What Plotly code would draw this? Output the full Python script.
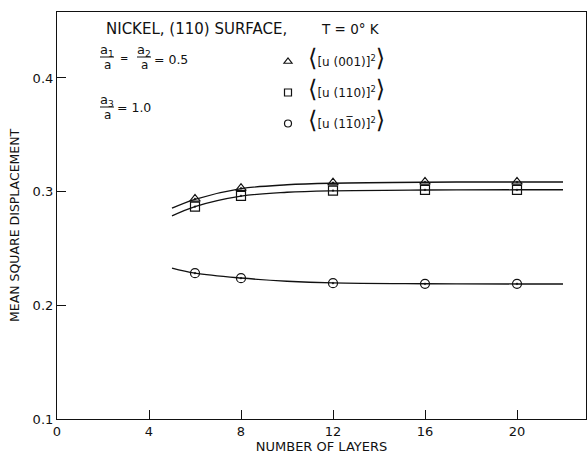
import plotly.graph_objects as go

# ---- data ----
layers = [6, 8, 12, 16, 20]
u001 = [0.2936, 0.3030, 0.3079, 0.3085, 0.3085]
u110 = [0.2868, 0.2962, 0.3009, 0.3015, 0.3015]
u1b10 = [0.2283, 0.2239, 0.2195, 0.2189, 0.2189]

curve_x = [5.0, 6, 8, 10, 12, 16, 20, 22]
curve_001 = [0.2854, 0.2932, 0.3026, 0.3060, 0.3074, 0.3083, 0.3085, 0.3085]
curve_110 = [0.2786, 0.2868, 0.2960, 0.2994, 0.3007, 0.3014, 0.3016, 0.3017]
curve_1b10 = [0.2327, 0.2283, 0.2240, 0.2212, 0.2197, 0.2190, 0.2188, 0.2187]

x_ticks = [0, 4, 8, 12, 16, 20]
y_ticks = [0.1, 0.2, 0.3, 0.4]
y_ticklabels = ['0.1', '0.2', '0.3', '0.4']

big = '<span style="font-size:24px">'
names = [
    big + '⟨</span>[u (001)]<sup>2</sup>' + big + '⟩</span>',
    big + '⟨</span>[u (110)]<sup>2</sup>' + big + '⟩</span>',
    big + '⟨</span>[u (11\u03050)]<sup>2</sup>' + big + '⟩</span>',
]
symbols = ['triangle-up-open', 'square-open', 'circle-open']
marker_symbols = ['triangle-up-open-dot', 'square-open-dot', 'circle-open-dot']

FONT = 'DejaVu Sans'
BLACK = '#111111'

fig = go.Figure()

for cy in (curve_001, curve_110, curve_1b10):
    fig.add_trace(go.Scatter(x=curve_x, y=cy, mode='lines',
                             line=dict(color=BLACK, width=1.4, shape='spline', smoothing=1.0),
                             showlegend=False, hoverinfo='skip'))

for i, (vals, name) in enumerate(zip((u001, u110, u1b10), names)):
    fig.add_trace(go.Scatter(x=layers, y=vals, mode='markers', name=name, legendgroup=f'g{i}',
                             marker=dict(symbol=marker_symbols[i], size=9, color=BLACK,
                                         line=dict(width=1.2, color=BLACK)),
                             showlegend=False))
    fig.add_trace(go.Scatter(x=[None], y=[None], mode='markers', name=name, legendgroup=f'g{i}',
                             marker=dict(symbol=symbols[i], size=7, color=BLACK,
                                         line=dict(width=1.2, color=BLACK)),
                             showlegend=True))

W, H = 587, 455
L, R, T, B = 57, 1, 12, 36
pw, ph = W - L - R, H - T - B

def px(x):
    return (x - L) / pw

def py(y):
    return (H - B - y) / ph

annotations = []
annotations.append(dict(x=px(104), y=py(29), xref='paper', yref='paper', xanchor='left', yanchor='middle',
                        text='NICKEL, (110) SURFACE,', showarrow=False,
                        font=dict(family=FONT, size=15, color=BLACK)))
annotations.append(dict(x=px(319), y=py(29), xref='paper', yref='paper', xanchor='left', yanchor='middle',
                        text='T = 0° K', showarrow=False,
                        font=dict(family=FONT, size=13.5, color=BLACK)))

def frac(xc, ynum, yden, num, den='a'):
    annotations.append(dict(x=px(xc), y=py(ynum), xref='paper', yref='paper', xanchor='center', yanchor='middle',
                            text=num, showarrow=False, font=dict(family=FONT, size=13, color=BLACK)))
    annotations.append(dict(x=px(xc), y=py(yden), xref='paper', yref='paper', xanchor='center', yanchor='middle',
                            text=den, showarrow=False, font=dict(family=FONT, size=12, color=BLACK)))

frac(107, 50, 65, 'a<sub>1</sub>')
frac(144, 50, 65, 'a<sub>2</sub>')
frac(107, 100, 115, 'a<sub>3</sub>')
annotations.append(dict(x=px(124), y=py(58), xref='paper', yref='paper', xanchor='center', yanchor='middle',
                        text='=', showarrow=False, font=dict(family=FONT, size=10, color=BLACK)))
annotations.append(dict(x=px(152), y=py(60), xref='paper', yref='paper', xanchor='left', yanchor='middle',
                        text='= 0.5', showarrow=False, font=dict(family=FONT, size=12.5, color=BLACK)))
annotations.append(dict(x=px(115), y=py(108), xref='paper', yref='paper', xanchor='left', yanchor='middle',
                        text='= 1.0', showarrow=False, font=dict(family=FONT, size=12.5, color=BLACK)))
annotations.append(dict(x=px(15), y=py(225), xref='paper', yref='paper', xanchor='center', yanchor='middle',
                        text='MEAN SQUARE DISPLACEMENT', textangle=-90, showarrow=False,
                        font=dict(family=FONT, size=12.5, color=BLACK)))

shapes = []
for (x0, x1, yy) in [(100, 114, 57), (137, 151, 57), (100, 114, 107)]:
    shapes.append(dict(type='line', xref='paper', yref='paper', x0=px(x0), x1=px(x1), y0=py(yy), y1=py(yy),
                       line=dict(color=BLACK, width=1)))

fig.update_layout(
    width=W, height=H,
    margin=dict(l=L, r=R, t=T, b=B),
    paper_bgcolor='white', plot_bgcolor='white',
    font=dict(family=FONT, size=13, color=BLACK),
    showlegend=True,
    legend=dict(x=px(268), y=py(47), xanchor='left', yanchor='top', bgcolor='rgba(0,0,0,0)',
                font=dict(family=FONT, size=12, color=BLACK), tracegroupgap=12, itemwidth=30),
    annotations=annotations,
    shapes=shapes,
    xaxis=dict(range=[0, 23], tickvals=x_ticks, ticktext=[str(v) for v in x_ticks], ticks='inside', ticklen=9,
               tickcolor=BLACK, showline=True, linecolor=BLACK, linewidth=1.2, mirror=True, showgrid=False,
               zeroline=False, tickfont=dict(size=13),
               title=dict(text='NUMBER OF LAYERS', font=dict(size=13), standoff=2)),
    yaxis=dict(range=[0.1, 0.458], tickvals=y_ticks, ticktext=y_ticklabels, ticks='inside', ticklen=9,
               tickcolor=BLACK, showline=True, linecolor=BLACK, linewidth=1.2, mirror=True, showgrid=False,
               zeroline=False, tickfont=dict(size=13)),
)

fig.write_html('out.html')
